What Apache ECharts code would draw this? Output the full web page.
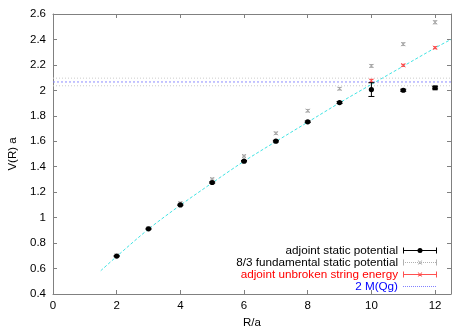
<!DOCTYPE html>
<html><head><meta charset="utf-8">
<script src="https://cdn.jsdelivr.net/npm/echarts@6/dist/echarts.min.js"></script>
<style>html,body{margin:0;padding:0;background:#fff}#c{width:471px;height:330px}</style>
</head><body><div id="c"></div>
<script>
// ---- data ----
const adjR   = [2, 3, 4, 5, 6, 7, 8, 9, 10, 11, 12];
const adjV   = [0.698, 0.912, 1.100, 1.276, 1.444, 1.601, 1.753, 1.904, 2.006, 2.001, 2.020];
const adjErr = [0.004, 0.004, 0.005, 0.005, 0.005, 0.006, 0.006, 0.007, 0.054, 0.008, 0.008];

const fundR   = [2, 3, 4, 5, 6, 7, 8, 9, 10, 11, 12];
const fundV   = [0.703, 0.918, 1.115, 1.303, 1.484, 1.663, 1.840, 2.013, 2.192, 2.363, 2.535];
const fundErr = [0.006, 0.006, 0.007, 0.008, 0.008, 0.009, 0.010, 0.010, 0.011, 0.011, 0.012];

const strR   = [10, 11, 12];
const strV   = [2.075, 2.197, 2.335];
const strErr = [0.012, 0.008, 0.008];

const mqgV = 2.066;
const mqgErr = 0.030;

const fitR = [1.5, 2, 3, 4, 5, 6, 7, 8, 9, 10, 11, 12, 12.5];
const fitV = [0.583, 0.695, 0.910, 1.098, 1.273, 1.443, 1.598, 1.750, 1.902, 2.047, 2.190, 2.333, 2.400];

const xTicks = [0, 2, 4, 6, 8, 10, 12];
const yTicks = [0.4, 0.6, 0.8, 1, 1.2, 1.4, 1.6, 1.8, 2, 2.2, 2.4, 2.6];

const names = ['adjoint static potential', '8/3 fundamental static potential',
               'adjoint unbroken string energy', '2 M(Qg)'];

// ---- rendering helpers ----
const XMIN = 0, XMAX = 12.5, YMIN = 0.4, YMAX = 2.6;
const FONT = 'Liberation Sans';
const BORDER = '#808080';

function errRender(kind, color, cw, s) {
  return function (params, api) {
    const x = api.value(0), y = api.value(1), e = api.value(2);
    const p = api.coord([x, y]);
    const lo = api.coord([x, y - e]);
    const hi = api.coord([x, y + e]);
    const ls = { stroke: color, lineWidth: 1 };
    const ch = [
      { type: 'line', shape: { x1: p[0], y1: lo[1], x2: p[0], y2: hi[1] }, style: ls },
      { type: 'line', shape: { x1: p[0] - cw, y1: lo[1], x2: p[0] + cw, y2: lo[1] }, style: ls },
      { type: 'line', shape: { x1: p[0] - cw, y1: hi[1], x2: p[0] + cw, y2: hi[1] }, style: ls }
    ];
    let k = kind;
    if (k === 'circle' && params.dataIndex === params.dataInsideLength - 1) k = 'square';
    if (k === 'circle') {
      ch.push({ type: 'circle', shape: { cx: p[0], cy: p[1], r: 2.6 }, style: { fill: color } });
    } else if (k === 'square') {
      ch.push({ type: 'rect', shape: { x: p[0] - 2.5, y: p[1] - 2.5, width: 5, height: 5 }, style: { fill: color } });
    } else {
      ch.push({ type: 'line', shape: { x1: p[0] - s, y1: p[1] - s, x2: p[0] + s, y2: p[1] + s }, style: ls });
      ch.push({ type: 'line', shape: { x1: p[0] - s, y1: p[1] + s, x2: p[0] + s, y2: p[1] - s }, style: ls });
    }
    return { type: 'group', children: ch };
  };
}

// legend icon paths (box 34 x 7), all sub-paths clockwise
function rect(x, y, w, h) { return 'M' + x + ',' + y + 'h' + w + 'v' + h + 'h' + (-w) + 'Z'; }
function dotted(y, step) { let s = ''; for (let x = 0; x < 34; x += step) s += rect(x, y, 1, 1); return s; }
function caps() { return rect(0, 0.5, 1, 6) + rect(33, 0.5, 1, 6); }
function cross(cx, cy) {
  const a = 2.3, b = 1.7;
  return 'M' + (cx - b) + ',' + (cy - a) + 'L' + (cx + a) + ',' + (cy + b) + 'L' + (cx + b) + ',' + (cy + a) + 'L' + (cx - a) + ',' + (cy - b) + 'Z' +
         'M' + (cx - b) + ',' + (cy + a) + 'L' + (cx - a) + ',' + (cy + b) + 'L' + (cx + b) + ',' + (cy - a) + 'L' + (cx + a) + ',' + (cy - b) + 'Z';
}
function dot(cx, cy, r) {
  return 'M' + (cx - r) + ',' + cy + 'a' + r + ',' + r + ' 0 1,1 ' + (2 * r) + ',0a' + r + ',' + r + ' 0 1,1 ' + (-2 * r) + ',0Z';
}
const pad = 'M0,0M34,7';
const icons = [
  'path://' + pad + rect(0, 3, 34, 1) + caps() + dot(17, 3.5, 2.5),
  'path://' + pad + dotted(3, 2) + caps() + cross(17, 3.5),
  'path://' + pad + rect(0, 3, 34, 1) + caps() + cross(17, 3.5),
  'path://' + pad + dotted(3, 2)
];
const legendColors = ['#000000', '#b0b0b0', '#ff5050', '#8080ff'];
const textColors = ['#000000', '#000000', '#ff0000', '#0000ff'];

const zip3 = (a, b, c) => a.map((v, i) => [v, b[i], c[i]]);

function mirrorX() {
  return { type: 'value', position: 'top', min: XMIN, max: XMAX, interval: 2,
    axisLine: { show: true, onZero: false, lineStyle: { color: BORDER, width: 1 } },
    axisTick: { show: true, inside: true, length: 4, customValues: xTicks, lineStyle: { color: BORDER } },
    axisLabel: { show: false }, splitLine: { show: false } };
}
function mirrorY() {
  return { type: 'value', position: 'right', min: YMIN, max: YMAX, interval: 0.2,
    axisLine: { show: true, onZero: false, lineStyle: { color: BORDER, width: 1 } },
    axisTick: { show: true, inside: true, length: 4, customValues: yTicks, lineStyle: { color: BORDER } },
    axisLabel: { show: false }, splitLine: { show: false } };
}

const option = {
  animation: false,
  backgroundColor: '#ffffff',
  textStyle: { fontFamily: FONT },
  grid: { left: 53, right: 20, top: 14, bottom: 36, containLabel: false, outerBoundsMode: 'none' },
  xAxis: [{
    type: 'value', position: 'bottom', min: XMIN, max: XMAX, interval: 2,
    name: 'R/a', nameLocation: 'middle', nameGap: 22,
    nameTextStyle: { fontFamily: FONT, fontSize: 11.5, color: '#000' },
    axisLine: { show: true, onZero: false, lineStyle: { color: BORDER, width: 1 } },
    axisTick: { show: true, inside: true, length: 4, customValues: xTicks, lineStyle: { color: BORDER } },
    axisLabel: { customValues: xTicks, margin: 6, fontFamily: FONT, fontSize: 11.5, color: '#000' },
    splitLine: { show: false }
  }, mirrorX()],
  yAxis: [{
    type: 'value', position: 'left', min: YMIN, max: YMAX, interval: 0.2,
    name: 'V(R) a', nameLocation: 'middle', nameGap: 34,
    nameTextStyle: { fontFamily: FONT, fontSize: 11.5, color: '#000' },
    axisLine: { show: true, onZero: false, lineStyle: { color: BORDER, width: 1 } },
    axisTick: { show: true, inside: true, length: 4, customValues: yTicks, lineStyle: { color: BORDER } },
    axisLabel: { customValues: yTicks, margin: 7, fontFamily: FONT, fontSize: 11.5, color: '#000' },
    splitLine: { show: false }
  }, mirrorY()],
  legend: {
    orient: 'vertical', right: 34, top: 244.5, align: 'right', padding: 0,
    itemWidth: 34, itemHeight: 7, itemGap: 0, selectedMode: false,
    textStyle: { fontFamily: FONT, fontSize: 11.7, lineHeight: 11.8, color: '#000' },
    data: names.map((n, i) => ({
      name: n, icon: icons[i],
      itemStyle: { color: legendColors[i], borderWidth: 0, borderColor: 'transparent' },
      textStyle: { color: textColors[i] }
    }))
  },
  series: [
    { type: 'line', name: 'mqg-hi', data: [[XMIN, mqgV + mqgErr], [XMAX, mqgV + mqgErr]], symbol: 'none', silent: true,
      lineStyle: { color: '#cccccc', width: 1, type: [1, 2] }, z: 1 },
    { type: 'line', name: 'mqg-lo', data: [[XMIN, mqgV - mqgErr], [XMAX, mqgV - mqgErr]], symbol: 'none', silent: true,
      lineStyle: { color: '#cccccc', width: 1, type: [1, 2] }, z: 1 },
    { type: 'line', name: names[3], data: [[XMIN, mqgV], [XMAX, mqgV]], symbol: 'none', silent: true,
      itemStyle: { color: '#8080ff' }, lineStyle: { color: '#8c8cff', width: 1, type: [2, 2] }, z: 2 },
    { type: 'line', name: 'fit', data: fitR.map((r, i) => [r, fitV[i]]), symbol: 'none', smooth: 0.3, silent: true,
      lineStyle: { color: '#40e4e4', width: 1, type: [3, 2] }, z: 2 },
    { type: 'custom', name: names[1], data: zip3(fundR, fundV, fundErr), encode: { x: 0, y: 1 },
      itemStyle: { color: '#b0b0b0' }, renderItem: errRender('cross', '#a8a8a8', 2, 2), z: 3 },
    { type: 'custom', name: names[2], data: zip3(strR, strV, strErr), encode: { x: 0, y: 1 },
      itemStyle: { color: '#ff5050' }, renderItem: errRender('cross', '#ff4848', 2, 2), z: 4 },
    { type: 'custom', name: names[0], data: zip3(adjR, adjV, adjErr), encode: { x: 0, y: 1 },
      itemStyle: { color: '#000000' }, renderItem: errRender('circle', '#000000', 3, 0), z: 5 }
  ]
};

const chart = echarts.init(document.getElementById('c'), null, { renderer: 'canvas' });
chart.setOption(option);
</script>
</body></html>
